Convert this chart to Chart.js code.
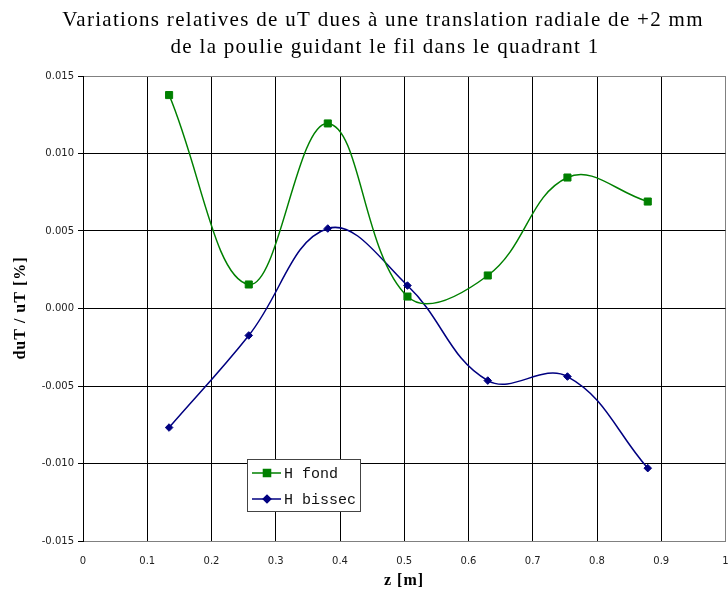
<!DOCTYPE html>
<html>
<head>
<meta charset="utf-8">
<script src="https://cdn.jsdelivr.net/npm/chart.js@4.4.0/dist/chart.umd.min.js"></script>
<style>
html,body{margin:0;padding:0;background:#fff;}
#wrap{width:728px;height:594px;position:relative;}
</style>
</head>
<body>
<div id="wrap"><canvas id="c" width="728" height="594"></canvas></div>
<script>
// ---- data ----
const zValues = [0.134, 0.258, 0.381, 0.505, 0.630, 0.754, 0.879];
const hFond   = [0.01377, 0.00155, 0.01194, 0.00077, 0.00213, 0.00845, 0.00690];
const hBissec = [-0.00768, -0.00174, 0.00516, 0.00148, -0.00465, -0.00439, -0.01030];
const seriesNames = ['H fond', 'H bissec'];
const xTickLabels = ['0','0.1','0.2','0.3','0.4','0.5','0.6','0.7','0.8','0.9','1'];
const yTickLabels = ['-0.015','-0.010','-0.005','0.000','0.005','0.010','0.015'];
const titleLines = ['Variations relatives de uT dues \u00e0 une translation radiale de +2 mm',
                    'de la poulie guidant le fil dans le quadrant 1'];
const xTitle = 'z [m]';
const yTitle = 'duT / uT [%]';

const GREEN = '#008000';
const NAVY = '#000080';

const toXY = (xs, ys) => xs.map((x, i) => ({x: x, y: ys[i]}));

const textPlugin = {
  id: 'texts',
  afterDraw(chart) {
    const ctx = chart.ctx;
    ctx.save();
    ctx.fillStyle = '#000';
    ctx.textAlign = 'center';
    ctx.textBaseline = 'middle';
    ctx.font = '21px "Liberation Serif", serif';
    ctx.letterSpacing = '1.3px';
    ctx.fillText(titleLines[0], 383, 20);
    ctx.fillText(titleLines[1], 385, 47);
    ctx.font = 'bold 16px "Liberation Serif", serif';
    ctx.letterSpacing = '1px';
    ctx.fillText(xTitle, 404, 581);
    ctx.translate(21, 308);
    ctx.rotate(-Math.PI / 2);
    ctx.fillText(yTitle, 0, 0);
    ctx.restore();

    // legend
    ctx.save();
    const bx = 247.5, by = 459.5, bw = 113, bh = 52;
    ctx.fillStyle = '#fff';
    ctx.fillRect(bx, by, bw, bh);
    ctx.strokeStyle = '#444';
    ctx.lineWidth = 1;
    ctx.strokeRect(bx, by, bw, bh);
    const rows = [473, 499];
    chart.data.datasets.forEach((ds, i) => {
      const y = rows[i];
      ctx.strokeStyle = ds.borderColor;
      ctx.lineWidth = 1.5;
      ctx.beginPath();
      ctx.moveTo(252, y);
      ctx.lineTo(281, y);
      ctx.stroke();
      ctx.fillStyle = ds.pointBackgroundColor;
      ctx.strokeStyle = ds.pointBorderColor;
      Chart.helpers.drawPoint(ctx, {pointStyle: ds.pointStyle, radius: ds.pointRadius, borderWidth: 1, rotation: 0}, 267, y);
      ctx.fillStyle = '#111';
      ctx.font = '15px "Liberation Mono", monospace';
      ctx.textAlign = 'left';
      ctx.textBaseline = 'middle';
      ctx.fillText(ds.label, 284, y + 1);
    });
    ctx.restore();
  }
};

new Chart(document.getElementById('c'), {
  type: 'line',
  data: {
    datasets: [
      {
        label: seriesNames[0],
        data: toXY(zValues, hFond),
        borderColor: GREEN,
        backgroundColor: GREEN,
        pointBackgroundColor: GREEN,
        pointBorderColor: GREEN,
        pointStyle: 'rect',
        pointRadius: 5,
        pointBorderWidth: 1,
        borderWidth: 1.5,
        tension: 0.4,
        fill: false
      },
      {
        label: seriesNames[1],
        data: toXY(zValues, hBissec),
        borderColor: NAVY,
        backgroundColor: NAVY,
        pointBackgroundColor: NAVY,
        pointBorderColor: NAVY,
        pointStyle: 'rectRot',
        pointRadius: 3.8,
        pointBorderWidth: 1,
        borderWidth: 1.5,
        tension: 0.4,
        fill: false
      }
    ]
  },
  options: {
    responsive: false,
    animation: false,
    devicePixelRatio: 1,
    layout: {autoPadding: false, padding: {top: 76, right: 2.5, left: 0, bottom: 0}},
    plugins: {
      legend: {display: false},
      title: {display: false},
      tooltip: {enabled: false}
    },
    scales: {
      x: {
        type: 'linear',
        min: 0, max: 1,
        afterFit(s) { s.height = 53; s.paddingRight = 0; },
        afterBuildTicks(s) { s.ticks = xTickLabels.map(v => ({value: parseFloat(v)})); },
        ticks: {
          callback: (v, i) => xTickLabels[i],
          font: {family: '"DejaVu Sans", sans-serif', size: 10},
          color: '#222',
          padding: 14,
          maxRotation: 0,
          autoSkip: false
        },
        grid: {
          color: (c) => (c.index === xTickLabels.length - 1 ? '#808080' : '#000'),
          lineWidth: 1,
          drawTicks: false
        },
        border: {color: '#808080', width: 1}
      },
      y: {
        type: 'linear',
        min: -0.015, max: 0.015,
        afterFit(s) { s.width = 83; },
        afterBuildTicks(s) { s.ticks = yTickLabels.map(v => ({value: parseFloat(v)})); },
        ticks: {
          callback: (v, i) => yTickLabels[i],
          font: {family: '"DejaVu Sans", sans-serif', size: 10},
          color: '#222',
          padding: 4
        },
        grid: {
          color: (c) => (c.index === yTickLabels.length - 1 || c.index === 0 ? '#808080' : '#000'),
          tickColor: '#000',
          lineWidth: 1,
          tickLength: 5
        },
        border: {color: '#000', width: 1}
      }
    }
  },
  plugins: [textPlugin]
});
</script>
</body>
</html>
